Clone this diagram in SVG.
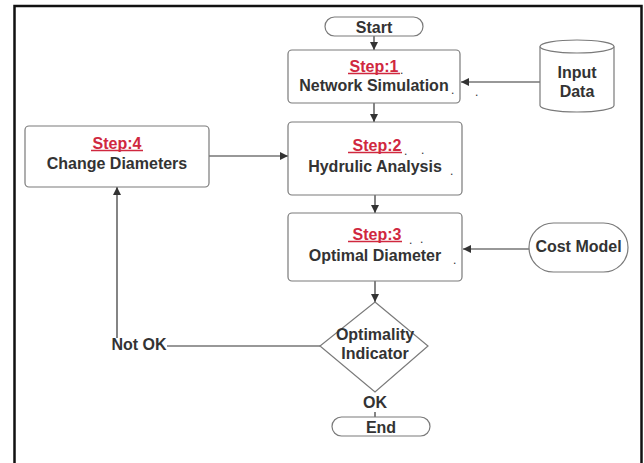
<svg xmlns="http://www.w3.org/2000/svg" width="644" height="463" viewBox="0 0 644 463">
<defs>
<marker id="ah" viewBox="0 0 10 10" refX="10" refY="5" markerWidth="8" markerHeight="8" markerUnits="userSpaceOnUse" orient="auto">
<path d="M0,0 L10,5 L0,10 z" fill="#333"/>
</marker>
<style>
.box{fill:#fff;stroke:#7a7a7a;stroke-width:1.2}
.t{font-family:"Liberation Sans",Arial,sans-serif;font-weight:bold;font-size:16px;fill:#333;text-anchor:middle}
.s{font-family:"Liberation Sans",Arial,sans-serif;font-weight:bold;font-size:16px;fill:#d0283f;text-anchor:middle}
.u{stroke:#d0283f;stroke-width:1.5}
.d{font-family:"Liberation Sans",Arial,sans-serif;font-size:12px;fill:#333}
.c{fill:none;stroke:#333;stroke-width:1.2}
</style>
</defs>
<rect width="644" height="463" fill="#fff"/>
<rect x="14.5" y="6" width="627" height="470" fill="none" stroke="#111" stroke-width="2.5"/>

<g id="connectors">
<line class="c" x1="374" y1="36" x2="374" y2="50" marker-end="url(#ah)"/>
<line class="c" x1="540" y1="82" x2="461" y2="82" marker-end="url(#ah)"/>
<line class="c" x1="374" y1="103" x2="374" y2="122" marker-end="url(#ah)"/>
<line class="c" x1="209" y1="156" x2="288" y2="156" marker-end="url(#ah)"/>
<line class="c" x1="375" y1="195" x2="375" y2="213" marker-end="url(#ah)"/>
<line class="c" x1="529" y1="249" x2="463" y2="249" marker-end="url(#ah)"/>
<line class="c" x1="375" y1="281" x2="375" y2="302" marker-end="url(#ah)"/>
<line class="c" x1="320" y1="346" x2="167" y2="346"/>
<line class="c" x1="117" y1="338" x2="117" y2="187" marker-end="url(#ah)"/>
<line class="c" x1="375" y1="412" x2="375" y2="417"/>
</g>

<g id="start">
<rect class="box" x="325" y="17" width="98" height="19" rx="9.5"/>
<text class="t" x="374" y="33">Start</text>
</g>

<g id="step1">
<rect class="box" x="288" y="50" width="172" height="53" rx="4"/>
<text class="s" x="374" y="72">Step:1</text>
<line class="u" x1="348" y1="73.5" x2="400" y2="73.5"/>
<text class="d" x="400" y="74">.</text>
<text class="t" x="374" y="91">Network Simulation</text>
<text class="d" x="451" y="94">.</text>
<text class="d" x="475" y="96">.</text>
</g>

<g id="input-data">
<path class="box" d="M540,46.5 L540,105.5 A37,6.5 0 0 0 614,105.5 L614,46.5"/>
<ellipse class="box" cx="577" cy="46.5" rx="37" ry="6.5"/>
<text class="t" x="577" y="78">Input</text>
<text class="t" x="577" y="97">Data</text>
</g>

<g id="step4">
<rect class="box" x="25" y="126" width="184" height="61" rx="4"/>
<text class="s" x="117" y="149">Step:4</text>
<line class="u" x1="91" y1="150.5" x2="143" y2="150.5"/>
<text class="t" x="117" y="169">Change Diameters</text>
</g>

<g id="step2">
<rect class="box" x="288" y="122" width="174" height="73" rx="4"/>
<text class="s" x="377" y="151">Step:2</text>
<line class="u" x1="348" y1="152.5" x2="402" y2="152.5"/>
<text class="d" x="404" y="155">.</text>
<text class="d" x="421" y="154">.</text>
<text class="t" x="375" y="172">Hydrulic Analysis</text>
<text class="d" x="450" y="175">.</text>
</g>

<g id="step3">
<rect class="box" x="288" y="213" width="174" height="68" rx="4"/>
<text class="s" x="377" y="240">Step:3</text>
<line class="u" x1="348" y1="241.5" x2="402" y2="241.5"/>
<text class="d" x="409" y="244">.</text>
<text class="d" x="420" y="243">.</text>
<text class="t" x="375" y="261">Optimal Diameter</text>
<text class="d" x="453" y="264">.</text>
</g>

<g id="cost-model">
<rect class="box" x="529" y="223" width="99" height="49" rx="24.5"/>
<text class="t" x="578.5" y="252">Cost Model</text>
</g>

<g id="optimality">
<path class="box" d="M375,302 L428,346 L375,392 L320,346 Z"/>
<text class="t" x="375" y="340">Optimality</text>
<text class="t" x="375" y="359">Indicator</text>
</g>

<g id="not-ok">
<text class="t" x="139" y="350">Not OK</text>
</g>

<g id="ok">
<text class="t" x="375" y="408">OK</text>
</g>

<g id="end">
<rect class="box" x="332" y="417" width="98" height="19" rx="9.5"/>
<text class="t" x="381" y="433">End</text>
</g>
</svg>
